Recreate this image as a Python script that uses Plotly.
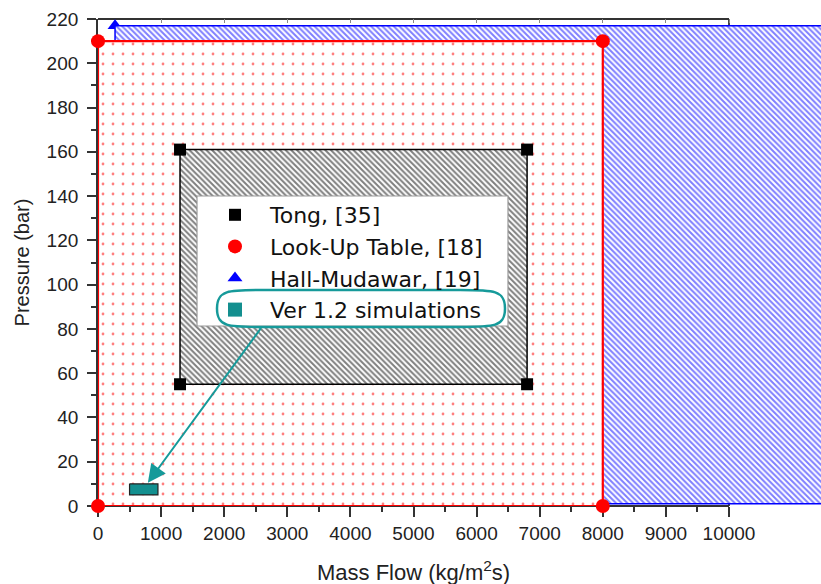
import plotly.graph_objects as go

# ---------------- data ----------------
tong_x = [1300, 6800, 6800, 1300]
tong_y = [161, 161, 55, 55]

lut_x = [0, 8000, 8000, 0]
lut_y = [210, 210, 0, 0]

hm_x = [270, 30000, 30000, 270]
hm_y = [217, 217, 1, 1]

sim_x = [500, 950, 950, 500]
sim_y = [10, 10, 5, 5]

x_ticks = list(range(0, 10001, 1000))
x_minor = list(range(500, 10000, 1000))
y_ticks = list(range(0, 221, 20))
y_minor = list(range(10, 220, 20))

arrow_tip = (790, 10.5)
arrow_tail = (2600, 81)

# ---------------- layout geometry ----------------
W, H = 821, 584
ML, MR, MT, MB = 98, 0, 19, 78
PW, PH = W - ML - MR, H - MT - MB
X_AXIS_END = 10000
XMAX = X_AXIS_END * PW / 631.0


def px_x(p):
    return (p - ML) / PW


def px_y(p):
    return (H - MB - p) / PH


FONT = "Liberation Sans, Arial, sans-serif"
LFONT = "DejaVu Sans, Liberation Sans, Arial, sans-serif"
TEAL = "#169a9a"
AXC = "#333333"


def closed(v):
    return v + [v[0]]


fig = go.Figure()

# Hall-Mudawar markers (drawn first, partly hidden under its region)
fig.add_trace(go.Scatter(x=hm_x, y=hm_y, mode="markers", name="Hall-Mudawar, [19]",
                         marker=dict(symbol="triangle-up", size=13, color="#0000ff"),
                         legendrank=3, cliponaxis=True))
# Hall-Mudawar region
fig.add_trace(go.Scatter(x=closed(hm_x), y=closed(hm_y), mode="lines", fill="toself",
                         fillcolor="white", line=dict(color="#0000ff", width=1.5),
                         fillpattern=dict(shape="\\", fgcolor="#0000ff", bgcolor="white",
                                          size=4, solidity=0.5),
                         showlegend=False, hoverinfo="skip"))
# Look-Up Table region
fig.add_trace(go.Scatter(x=closed(lut_x), y=closed(lut_y), mode="lines", fill="toself",
                         fillcolor="white", line=dict(color="#ff0000", width=2.2),
                         fillpattern=dict(shape=".", fgcolor="#ff0000", bgcolor="white",
                                          size=10, solidity=0.06),
                         showlegend=False, hoverinfo="skip"))
fig.add_trace(go.Scatter(x=lut_x, y=lut_y, mode="markers", name="Look-Up Table, [18]",
                         marker=dict(symbol="circle", size=14, color="#ff0000"),
                         legendrank=2, cliponaxis=False))
# Tong region
fig.add_trace(go.Scatter(x=closed(tong_x), y=closed(tong_y), mode="lines", fill="toself",
                         fillcolor="white", line=dict(color="black", width=1.5),
                         fillpattern=dict(shape="\\", fgcolor="black", bgcolor="white",
                                          size=4, solidity=0.5),
                         showlegend=False, hoverinfo="skip"))
fig.add_trace(go.Scatter(x=tong_x, y=tong_y, mode="markers", name="Tong, [35]",
                         marker=dict(symbol="square", size=12, color="black"),
                         legendrank=1, cliponaxis=False))
# Ver 1.2 simulations
fig.add_trace(go.Scatter(x=closed(sim_x), y=closed(sim_y), mode="lines", fill="toself",
                         fillcolor="#138f8f", line=dict(color="#222222", width=1.2),
                         showlegend=False, hoverinfo="skip"))
fig.add_trace(go.Scatter(x=[None], y=[None], mode="markers", name="Ver 1.2 simulations",
                         marker=dict(symbol="square", size=14, color="#138f8f"),
                         legendrank=4))
# dummy for top mirror axis
fig.add_trace(go.Scatter(x=[None], y=[None], xaxis="x2", showlegend=False, hoverinfo="skip"))

XF = X_AXIS_END / XMAX
shapes = [
    # frame lines
    dict(type="line", xref="paper", yref="paper", x0=0, x1=XF, y0=0, y1=0,
         line=dict(color=AXC, width=1.8), layer="below"),
    dict(type="line", xref="paper", yref="paper", x0=0, x1=XF, y0=1, y1=1,
         line=dict(color=AXC, width=1.8), layer="below"),
    dict(type="line", xref="paper", yref="paper", x0=XF, x1=XF, y0=0, y1=1,
         line=dict(color=AXC, width=1.8), layer="below"),
    # legend box
    dict(type="rect", xref="paper", yref="paper",
         x0=px_x(197), x1=px_x(508), y0=px_y(326), y1=px_y(196),
         fillcolor="white", line=dict(color="#999999", width=1.2), layer="above"),
]
# hand-drawn oval around the simulations entry
L, R, T, B = px_x(217), px_x(505), px_y(290), px_y(327)
Mv = (T + B) / 2
d1 = px_x(262) - L
shapes.append(dict(
    type="path", xref="paper", yref="paper", layer="above",
    path=(f"M{L},{Mv} C{L},{T} {L + d1*0.25},{T} {L + d1},{T} "
          f"L{R - d1},{T} C{R - d1*0.25},{T} {R},{T} {R},{Mv} "
          f"C{R},{B} {R - d1*0.25},{B} {R - d1},{B} "
          f"L{L + d1},{B} C{L + d1*0.25},{B} {L},{B} {L},{Mv} Z"),
    line=dict(color=TEAL, width=2.5)))

fig.update_layout(
    width=W, height=H,
    margin=dict(l=ML, r=MR, t=MT, b=MB, pad=0, autoexpand=False),
    paper_bgcolor="white", plot_bgcolor="white",
    font=dict(family=FONT, color="#222222"),
    shapes=shapes,
    showlegend=True,
    legend=dict(x=px_x(200), y=px_y(194), xanchor="left", yanchor="top",
                bgcolor="rgba(0,0,0,0)", borderwidth=0,
                font=dict(size=22, family=LFONT, color="#111111"),
                itemwidth=60, tracegroupgap=0, traceorder="normal"),
    xaxis=dict(range=[0, XMAX], tickmode="array", tickvals=x_ticks,
               ticktext=[str(v) for v in x_ticks], automargin=False,
               ticks="outside", ticklen=10, tickwidth=1.6, tickcolor=AXC,
               showline=False, showgrid=False, zeroline=False,
               layer="below traces",
               tickfont=dict(size=19, family=FONT, color="#222222"),
               minor=dict(tickmode="array", tickvals=x_minor, ticks="outside",
                          ticklen=5, tickwidth=1.6, tickcolor=AXC, showgrid=False)),
    xaxis2=dict(range=[0, XMAX], overlaying="x", side="top", anchor="y",
                tickmode="array", tickvals=x_ticks, ticks="inside", ticklen=4,
                tickwidth=1, tickcolor="#888888", showticklabels=False, automargin=False,
                showline=False, showgrid=False, zeroline=False),
    yaxis=dict(range=[0, 220], tickmode="array", tickvals=y_ticks, automargin=False,
               ticks="outside", ticklen=9, tickwidth=1.6, tickcolor=AXC,
               showline=True, linecolor=AXC, linewidth=1.8, ticklabelstandoff=5,
               showgrid=False, zeroline=False, layer="below traces",
               tickfont=dict(size=19, family=FONT, color="#222222"),
               title=dict(text="Pressure (bar)", font=dict(size=20, family=FONT, color="#222222"),
                          standoff=12),
               minor=dict(tickmode="array", tickvals=y_minor, ticks="outside",
                          ticklen=5, tickwidth=1.6, tickcolor=AXC, showgrid=False)),
    annotations=[
        dict(text="Mass Flow (kg/m<sup>2</sup>s)", xref="x", yref="paper",
             x=X_AXIS_END / 2, y=px_y(571), xanchor="center", yanchor="middle",
             showarrow=False, font=dict(size=22, family=FONT, color="#222222")),
        dict(text="", xref="x", yref="y", x=arrow_tip[0], y=arrow_tip[1],
             axref="x", ayref="y", ax=arrow_tail[0], ay=arrow_tail[1],
             showarrow=True, arrowhead=2, arrowsize=1.8, arrowwidth=2,
             arrowcolor=TEAL, standoff=0, startstandoff=0),
    ],
)

fig.write_html("out.html", config={"displayModeBar": False},
               post_script="document.body.style.margin='0px';document.body.style.padding='0px';")
